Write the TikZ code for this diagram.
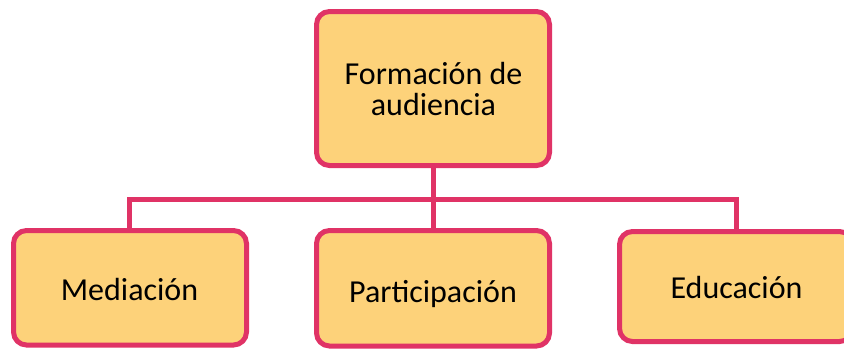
\documentclass[tikz,border=0pt]{standalone}
\usepackage{fontspec}
\setmainfont{Carlito}
\definecolor{boxfill}{RGB}{253,210,122}
\definecolor{boxline}{RGB}{224,51,102}
\tikzset{
  x=1pt, y=-1pt,
  orgbox/.style={draw=boxline, fill=boxfill, line width=5pt, rounded corners=13pt},
  orglabel/.style={font=\fontsize{32}{31}\selectfont, text=black, inner sep=0pt, anchor=base, align=center},
  link/.style={draw=boxline, line width=5pt, line join=miter}
}
\begin{document}
\begin{tikzpicture}
\useasboundingbox (0,0) rectangle (844,349);
\coordinate (hub) at (433,199);
\coordinate (hl) at (129,199);
\coordinate (hr) at (736,199);
% boxes
\path[orgbox] (316.5,11.5) rectangle (549.5,165.5);
\path[orgbox] (13.5,230.5) rectangle (246.5,345);
\path[orgbox] (316.5,230.5) rectangle (549.5,346);
\path[orgbox] (619.5,231.5) rectangle (852.5,341.5);
\coordinate (top) at (433,165.5);
\coordinate (bl) at (129,230.5);
\coordinate (bm) at (433,230.5);
\coordinate (br) at (736,231.5);
% connectors
\draw[link] (top) -- (bm);
\draw[link] (bl) -- (hl) -- (hr) -- (br);
% labels
\node[orglabel] (t1) at (433.5,84) {Formación de};
\node[orglabel] (t2) at (433.5,115) {audiencia};
\node[orglabel] (m) at (129.5,300) {Mediación};
\node[orglabel] (p) at (433,302) {Participación};
\node[orglabel] (e) at (736.5,298) {Educación};
\end{tikzpicture}
\end{document}
